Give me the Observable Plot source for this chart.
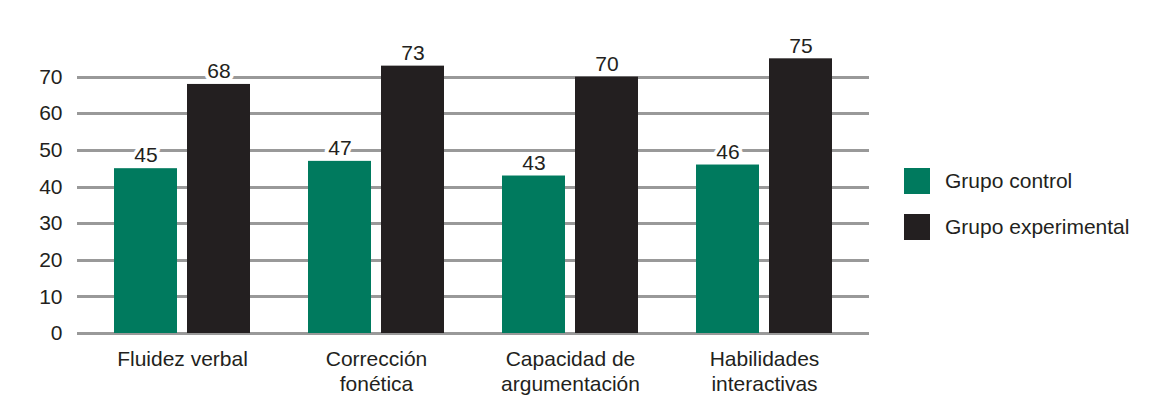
<!DOCTYPE html>
<html>
<head>
<meta charset="utf-8">
<script src="https://cdn.jsdelivr.net/npm/d3@7"></script>
<script src="https://cdn.jsdelivr.net/npm/@observablehq/plot@0.6"></script>
<style>
  html, body { margin: 0; padding: 0; background: #fff; }
  #wrap { position: relative; width: 1171px; height: 402px; font-family: "Liberation Sans", Arial, sans-serif; }
  #legend { position: absolute; left: 904px; top: 168px; }
  .item { display: flex; align-items: center; height: 26px; margin-bottom: 20px; font-size: 21px; color: #231f20; }
  .sw { width: 26px; height: 26px; margin-right: 15px; }
</style>
</head>
<body>
<div id="wrap"><div id="chart"></div><div id="legend"></div></div>
<script>
const categories = ["Fluidez verbal", "Corrección fonética", "Capacidad de argumentación", "Habilidades interactivas"];
const tickLabels = ["Fluidez verbal", "Corrección\nfonética", "Capacidad de\nargumentación", "Habilidades\ninteractivas"];
const series = ["Grupo control", "Grupo experimental"];
const control = [45, 47, 43, 46];
const experimental = [68, 73, 70, 75];
const yTicks = [0, 10, 20, 30, 40, 50, 60, 70];
const colors = ["#007a5e", "#231f20"];

const data = [];
categories.forEach((c, i) => {
  data.push({category: c, series: series[0], value: control[i]});
  data.push({category: c, series: series[1], value: experimental[i]});
});
const labelOf = new Map(categories.map((c, i) => [c, tickLabels[i]]));

const chart = Plot.plot({
  width: 880,
  height: 402,
  marginLeft: 85,
  marginRight: 19,
  marginTop: 40,
  marginBottom: 69,
  style: {fontFamily: '"Liberation Sans", Arial, sans-serif', fontSize: "21px", color: "#231f20", background: "white"},
  fx: {domain: categories, padding: 0},
  x: {domain: series, axis: null, paddingInner: 0.137, paddingOuter: 0.397},
  y: {domain: [0, 80]},
  color: {domain: series, range: colors},
  marks: [
    Plot.ruleY(yTicks, {stroke: "#999999", strokeWidth: 3, insetLeft: -8, insetRight: -8, shapeRendering: "crispEdges"}),
    Plot.barY(data, {fx: "category", x: "series", y: "value", fill: "series"}),
    Plot.text(data, {fx: "category", x: "series", y: "value", text: d => String(d.value), dy: -13, fontSize: 21, fill: "#231f20", stroke: "white", strokeWidth: 8}),
    Plot.axisY({ticks: yTicks, tickSize: 0, tickPadding: 23, fontSize: 21, label: null, tickFormat: d => String(d)}),
    Plot.axisFx({anchor: "bottom", tickSize: 0, tickPadding: 15, fontSize: 21, lineHeight: 1.19, label: null, tickFormat: d => labelOf.get(d)})
  ]
});
document.getElementById("chart").appendChild(chart);

const legend = document.getElementById("legend");
series.forEach((s, i) => {
  const item = document.createElement("div");
  item.className = "item";
  const sw = document.createElement("div");
  sw.className = "sw";
  sw.style.background = colors[i];
  const t = document.createElement("span");
  t.textContent = s;
  item.appendChild(sw);
  item.appendChild(t);
  legend.appendChild(item);
});
</script>
</body>
</html>
